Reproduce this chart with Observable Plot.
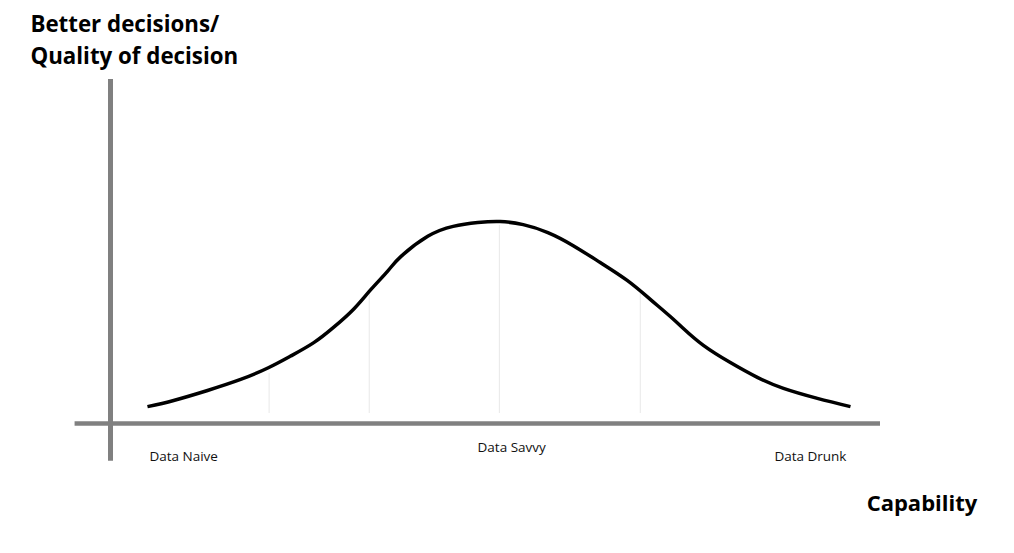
<!DOCTYPE html>
<html>
<head>
<meta charset="utf-8">
<script src="https://cdn.jsdelivr.net/npm/d3@7"></script>
<script src="https://cdn.jsdelivr.net/npm/@observablehq/plot@0.6"></script>
<style>
  html, body { margin: 0; padding: 0; background: #fff; }
  #chart svg { display: block; }
</style>
</head>
<body>
<div id="chart"></div>
<script>
// Curve: capability (x) vs quality of decision (y), arbitrary 0–100 units
const capability = [4.8, 8.2, 12.6, 16.9, 20.5, 23.4, 26.4, 29.0, 31.6, 33.8, 36.0, 37.7, 41.2, 44.5, 47.7, 50.6, 53.6, 56.8, 60.1, 63.6, 67.1, 70.1, 72.7, 74.4, 77.0, 80.5, 84.0, 87.4, 91.8, 96.1];
const quality    = [4.9, 6.7, 9.6, 12.8, 16.2, 19.6, 23.5, 28.0, 33.3, 38.9, 44.3, 48.5, 54.4, 57.3, 58.4, 58.7, 57.8, 55.5, 51.7, 46.8, 41.6, 36.1, 31.1, 27.6, 22.7, 17.7, 13.4, 10.2, 7.3, 4.9];

// Faint guide lines under the curve
const guideX   = [20.6, 33.6, 50.5, 68.8];
const guideTop = [14.5, 37.8, 57.6, 38.1];
const guideBottom = 2.9;

// Stage labels
const stageLabels = ["Data Naive", "Data Savvy", "Data Drunk"];
const stageX = [9.5, 52.1, 90.9];
const stageY = [-10.8, -8.3, -10.8];

// Axis extents (data units)
const xAxisFrom = -4.6, xAxisTo = 100;
const yAxisFrom = -11, yAxisTo = 100;

const yTitleLines = ["Better decisions/", "Quality of decision"];
const yTitleX = -10.4;
const yTitleY = [113.9, 104.6];
const xTitle = "Capability";
const xTitleX = 98.2, xTitleY = -25.5;

const curveData = capability.map((c, i) => ({c, q: quality[i]}));
const guides = guideX.map((x, i) => ({x, top: guideTop[i]}));
const stages = stageLabels.map((t, i) => ({t, x: stageX[i], y: stageY[i]}));
const titles = yTitleLines.map((t, i) => ({t, y: yTitleY[i]}));

const font = "'Open Sans', 'DejaVu Sans', sans-serif";

const chart = Plot.plot({
  width: 1014,
  height: 553,
  marginLeft: 110,
  marginRight: 134,
  marginTop: 79,
  marginBottom: 130,
  x: {domain: [0, 100], axis: null},
  y: {domain: [0, 100], axis: null},
  style: {background: "#fff", fontFamily: font},
  marks: [
    Plot.ruleX(guides, {x: "x", y1: guideBottom, y2: "top", stroke: "#e8e8e8", strokeWidth: 1}),
    Plot.ruleX([0], {y1: yAxisFrom, y2: yAxisTo, stroke: "#808080", strokeWidth: 5}),
    Plot.ruleY([0], {x1: xAxisFrom, x2: xAxisTo, stroke: "#808080", strokeWidth: 4.5}),
    Plot.line(curveData, {x: "c", y: "q", curve: "natural", stroke: "#000", strokeWidth: 3.5, strokeLinecap: "butt"}),
    Plot.text(stages, {x: "x", y: "y", text: "t", fontSize: 13.5, fill: "#111", textAnchor: "middle", lineAnchor: "bottom"}),
    Plot.text(titles, {x: yTitleX, y: "y", text: "t", fontSize: 22.3, fontWeight: "bold", fill: "#000", textAnchor: "start", lineAnchor: "bottom"}),
    Plot.text([xTitle], {x: xTitleX, y: xTitleY, text: d => d, fontSize: 22, fontWeight: "bold", fill: "#000", textAnchor: "start", lineAnchor: "bottom"})
  ]
});
document.getElementById("chart").append(chart);
</script>
</body>
</html>
